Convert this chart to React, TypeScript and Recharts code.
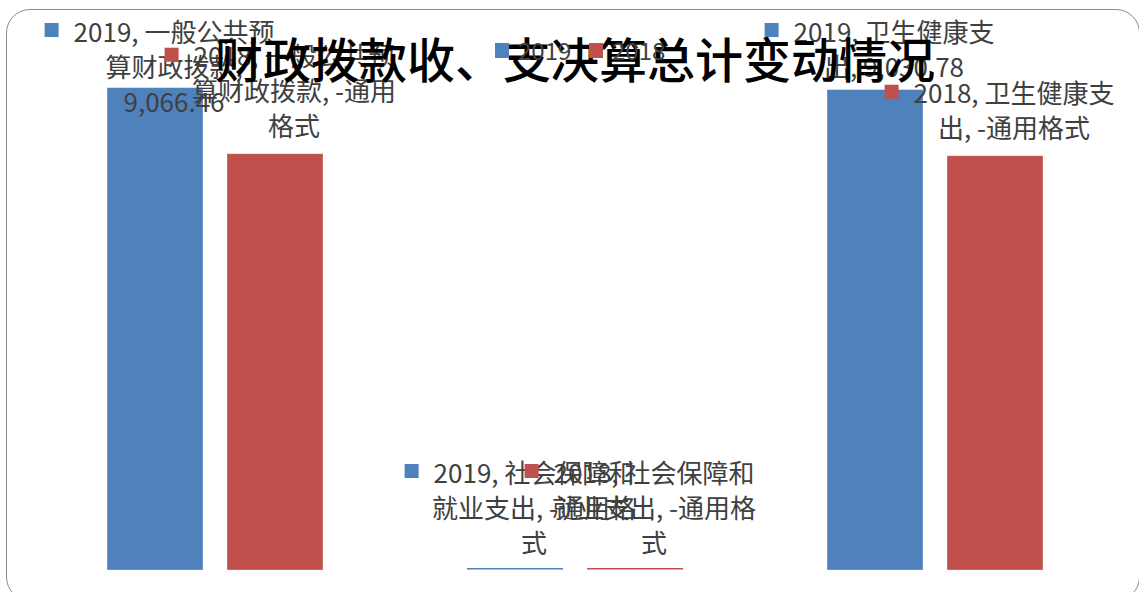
import React from 'react';
import { BarChart, Bar, XAxis, YAxis, LabelList, Legend } from 'recharts';

// data
const categories = ['一般公共预算财政拨款', '社会保障和就业支出', '卫生健康支出'];
const values2019 = [9066.46, 0, 9030.78];
const values2018 = [7825, 0, 7787];
const seriesNames = ['2019', '2018'];
const labelLines2019 = [
  ['2019, 一般公共预', '算财政拨款,', '9,066.46'],
  ['2019, 社会保障和', '就业支出, -通用格', '式'],
  ['2019, 卫生健康支', '出, 9,030.78'],
];
const labelLines2018 = [
  ['2018, 一般公共预', '算财政拨款, -通用', '格式'],
  ['2018, 社会保障和', '就业支出, -通用格', '式'],
  ['2018, 卫生健康支', '出, -通用格式'],
];
const title = '财政拨款收、支决算总计变动情况';

const W = 1139;
const H = 592;
const BLUE = '#4F81BD';
const RED = '#C0504D';
const FONT = '"Noto Sans CJK SC", "Noto Sans", sans-serif';
const LABEL_SIZE = 26;

let ctx: CanvasRenderingContext2D | null = null;
function textWidth(s: string) {
  if (!ctx) ctx = document.createElement('canvas').getContext('2d');
  if (!ctx) return s.length * LABEL_SIZE * 0.7;
  ctx.font = `${LABEL_SIZE}px ${FONT}`;
  return ctx.measureText(s).width;
}

function makeLabel(color: string) {
  return (props: any) => {
    const vb = props.viewBox || {};
    const x = props.x ?? vb.x;
    const y = props.y ?? vb.y;
    const width = props.width ?? vb.width;
    const lines = String(props.value ?? '').split('\n');
    const cx = x + width / 2 + 19;
    const step = 35;
    const last = y - 29;
    const first = Math.max(30, last - (lines.length - 1) * step);
    const w0 = textWidth(lines[0]);
    return (
      <g>
        {lines.map((t, i) => (
          <text
            key={i}
            x={cx}
            y={first + i * step}
            textAnchor="middle"
            dominantBaseline="central"
            fontFamily={FONT}
            fontSize={LABEL_SIZE}
            fill="#404040"
          >
            {t}
          </text>
        ))}
        <rect x={cx - w0 / 2 - 29} y={first - 7} width={14} height={14} fill={color} />
      </g>
    );
  };
}

function BarShape(props: any) {
  const { x, y, width, height, fill } = props;
  if (!height || height < 1) {
    return <rect x={x} y={y - 2} width={width} height={1.5} fill={fill} />;
  }
  return <rect x={x} y={y} width={width} height={height} fill={fill} stroke="#ffffff" strokeOpacity={0.4} strokeWidth={0.8} />;
}

function LegendBox() {
  const item = (color: string, name: string, left: number) => (
    <div key={name} style={{ position: 'absolute', left, top: 38, display: 'flex', alignItems: 'center', height: 24 }}>
      <div style={{ width: 14, height: 15, background: color, marginRight: 9 }} />
      <span style={{ fontFamily: FONT, fontSize: 24, color: '#404040', lineHeight: '24px' }}>{name}</span>
    </div>
  );
  return (
    <div style={{ position: 'relative', width: W, height: 0 }}>
      {item(BLUE, seriesNames[0], 495)}
      {item(RED, seriesNames[1], 589)}
    </div>
  );
}

export default function App() {
  const data = categories.map((name, i) => ({
    name,
    v2019: values2019[i],
    v2018: values2018[i],
    l2019: labelLines2019[i].join('\n'),
    l2018: labelLines2018[i].join('\n'),
  }));

  return (
    <div style={{ position: 'absolute', left: 0, top: 0, width: W, height: H, overflow: 'hidden', background: '#fff' }}>
      <div
        style={{
          position: 'absolute', left: 6, top: 9, width: 1134, height: 592,
          border: '1.5px solid #8a8a8a', borderRadius: 24, boxSizing: 'border-box',
        }}
      />
      <BarChart
        width={W}
        height={H}
        data={data}
        margin={{ top: 38, right: 24, bottom: 22, left: 35 }}
        barCategoryGap="20%"
        barGap={24}
      >
        <XAxis dataKey="name" hide />
        <YAxis hide domain={[0, 10000]} />
        <Legend
          content={() => <LegendBox />}
          wrapperStyle={{ position: 'absolute', left: 0, top: 0, width: W, zIndex: 2 }}
        />
        <Bar dataKey="v2019" name={seriesNames[0]} fill={BLUE} shape={BarShape} isAnimationActive={false}>
          <LabelList dataKey="l2019" content={makeLabel(BLUE)} />
        </Bar>
        <Bar dataKey="v2018" name={seriesNames[1]} fill={RED} shape={BarShape} isAnimationActive={false}>
          <LabelList dataKey="l2018" content={makeLabel(RED)} />
        </Bar>
      </BarChart>
      <div
        style={{
          position: 'absolute', left: 0, top: 33, width: 1150, textAlign: 'center',
          fontFamily: FONT, fontSize: 48, fontWeight: 500, lineHeight: '48px', color: '#000', zIndex: 1,
        }}
      >
        {title}
      </div>
    </div>
  );
}
